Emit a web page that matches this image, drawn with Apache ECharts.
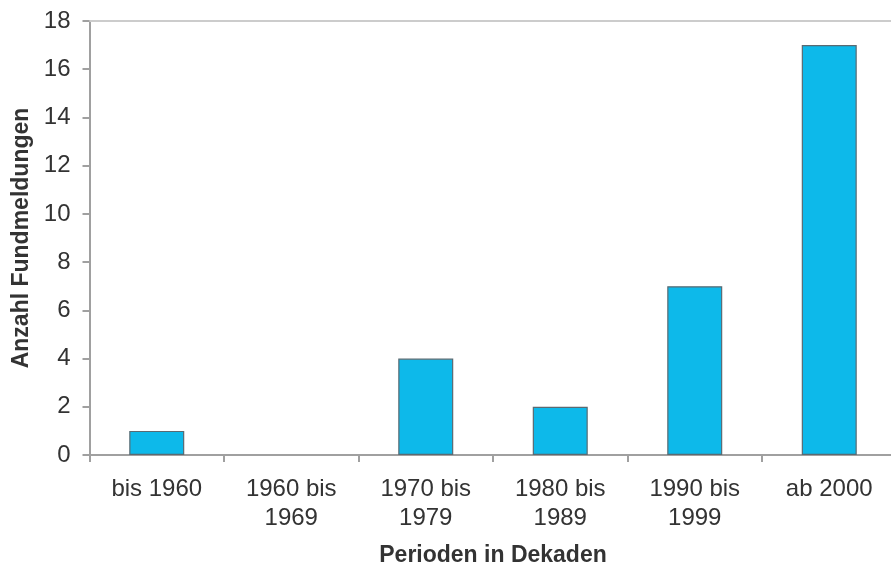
<!DOCTYPE html>
<html>
<head>
<meta charset="utf-8">
<script src="https://cdn.jsdelivr.net/npm/echarts@6/dist/echarts.min.js"></script>
<style>
  html, body { margin: 0; padding: 0; background: #fff; }
  #chart { width: 891px; height: 567px; }
</style>
</head>
<body>
<div id="chart"></div>
<script>
// Fundmeldungen je Dekade
const categories = ['bis 1960', '1960 bis\n1969', '1970 bis\n1979', '1980 bis\n1989', '1990 bis\n1999', 'ab 2000'];
const counts = [1, 0, 4, 2, 7, 17];
const yTicks = { min: 0, max: 18, interval: 2 };

// empty decades get no outline so nothing shows on the baseline
const barData = counts.map(v => v === 0 ? { value: v, itemStyle: { borderWidth: 0 } } : v);

const chart = echarts.init(document.getElementById('chart'), null, { renderer: 'canvas' });
chart.setOption({
  backgroundColor: '#ffffff',
  animation: false,
  grid: { left: 89.5, top: 21, width: 807, bottom: 112, containLabel: false, outerBoundsMode: 'none' },
  xAxis: {
    type: 'category',
    data: categories,
    name: 'Perioden in Dekaden',
    nameLocation: 'middle',
    nameGap: 89,
    nameTextStyle: { fontFamily: 'Liberation Sans', fontWeight: 'bold', fontSize: 23, color: '#333' },
    axisLine: { lineStyle: { color: '#a0a0a0', width: 2 } },
    axisTick: { show: true, length: 7, alignWithLabel: false, lineStyle: { color: '#a0a0a0', width: 2 } },
    axisLabel: { fontFamily: 'Liberation Sans', fontSize: 24, color: '#333', margin: 20, lineHeight: 29, interval: 0 },
    splitLine: { show: false }
  },
  yAxis: {
    type: 'value',
    min: yTicks.min, max: yTicks.max, interval: yTicks.interval,
    name: 'Anzahl Fundmeldungen',
    nameLocation: 'middle',
    nameGap: 52,
    nameTextStyle: { fontFamily: 'Liberation Sans', fontWeight: 'bold', fontSize: 23, color: '#333' },
    axisLine: { show: true, lineStyle: { color: '#a0a0a0', width: 2 } },
    axisTick: { show: true, length: 7, lineStyle: { color: '#a0a0a0', width: 2 } },
    axisLabel: { fontFamily: 'Liberation Sans', fontSize: 24, color: '#333', margin: 19 },
    splitLine: { show: false }
  },
  series: [{
    type: 'bar',
    data: barData,
    barWidth: 55,
    itemStyle: { color: '#0DB9EA', borderColor: '#5a6a72', borderWidth: 1.2 },
    markLine: {
      silent: true,
      symbol: 'none',
      label: { show: false },
      lineStyle: { color: '#cccccc', type: 'solid', width: 2 },
      data: [{ yAxis: yTicks.max }]
    }
  }]
});
</script>
</body>
</html>
